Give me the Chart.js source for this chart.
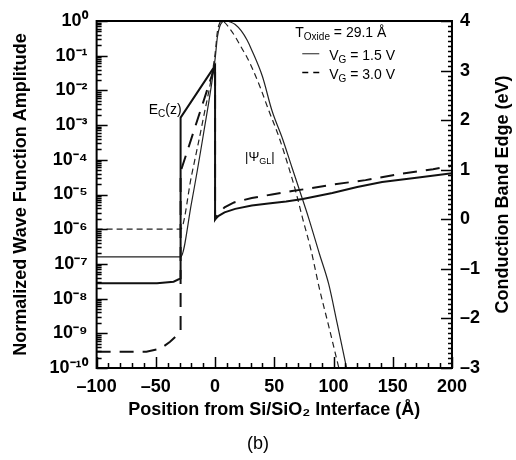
<!DOCTYPE html>
<html><head><meta charset="utf-8">
<script src="https://cdn.jsdelivr.net/npm/chart.js@4.4.1/dist/chart.umd.min.js"></script>
<style>html,body{margin:0;padding:0;background:#fff}canvas{display:block}</style>
</head><body>
<canvas id="c" width="516" height="460"></canvas>
<script>
// ---------- data ----------
const xTickValues = [-100, -50, 0, 50, 100, 150, 200];
const yDecadeExponents = [-10, -9, -8, -7, -6, -5, -4, -3, -2, -1, 0];
const y2TickValues = [-3, -2, -1, 0, 1, 2, 3, 4];

// Conduction band edge, V_G = 1.5 V (solid), eV, right axis
const ecSolidZ  = [-100, -49, -35, -29.1, -29.1, 0, 0, 3, 8, 17, 31, 45, 60, 74, 99, 120, 141, 170, 200];
const ecSolidEv = [-1.29, -1.29, -1.26, -1.19, 2.05, 3.1, 0.0, 0.07, 0.14, 0.21, 0.28, 0.32, 0.36, 0.41, 0.53, 0.65, 0.75, 0.84, 0.93];
// Conduction band edge, V_G = 3.0 V (dashed)
const ecDashZ  = [-100, -58, -46, -38, -33, -29.1, -29.1, 0, 0, 3, 8, 16, 31, 48, 65, 82, 99, 127, 155, 184, 200];
const ecDashEv = [-2.67, -2.67, -2.61, -2.47, -2.36, -2.24, 0.96, 3.1, 0.0, 0.12, 0.24, 0.34, 0.43, 0.5, 0.57, 0.63, 0.70, 0.79, 0.91, 1.01, 1.08];

// |Psi| (log10 of normalized amplitude), left axis
const psiSolidZ     = [-100, -29.1, -20, -10, 0, 2, 4, 6, 8, 10, 13, 17, 22, 27, 31, 40, 48, 57, 65, 72, 79, 88, 96, 103, 111];
const psiSolidLog10 = [-6.8, -6.8, -5.26, -3.3, -1.1, -0.45, -0.15, -0.03, 0, 0, -0.03, -0.1, -0.28, -0.55, -0.84, -1.6, -2.58, -3.4, -4.23, -4.95, -5.68, -6.7, -7.59, -8.7, -10];
const psiDashZ      = [-100, -29.1, -20, -10, 0, 2, 4, 6, 8, 12, 17, 22, 27, 31, 38, 45, 54, 62, 68, 74, 81, 88, 96, 104.5];
const psiDashLog10  = [-6.0, -6.0, -4.48, -2.82, -0.95, -0.3, -0.05, 0, -0.04, -0.2, -0.45, -0.75, -1.05, -1.33, -1.9, -2.55, -3.35, -4.2, -4.9, -5.7, -6.6, -7.7, -8.8, -10];

// ---------- helpers ----------
const FONT = "'Liberation Sans', Arial, Helvetica, sans-serif";
const SUP = {'-':'\u207B','0':'\u2070','1':'\u00B9','2':'\u00B2','3':'\u00B3','4':'\u2074','5':'\u2075','6':'\u2076','7':'\u2077','8':'\u2078','9':'\u2079'};
const toSup = n => String(n).split('').map(c => SUP[c]).join('');
const dashNum = v => v < 0 ? '\u2013' + Math.abs(v) : String(v);
const pts = (zs, vs) => zs.map((z, i) => ({x: z, y: vs[i]}));
const ptsLog = (zs, es) => zs.map((z, i) => ({x: z, y: Math.pow(10, es[i])}));

function richText(ctx, x, y, parts) {
  let cx = x;
  for (const p of parts) {
    ctx.font = (p.weight || 'normal') + ' ' + p.size + 'px ' + FONT;
    ctx.fillText(p.t, cx, y + (p.dy || 0));
    cx += ctx.measureText(p.t).width;
  }
}

const decor = {
  id: 'decor',
  afterDraw(chart) {
    const {ctx, chartArea: a, scales: {x, y, y2}} = chart;
    ctx.save();
    ctx.setLineDash([]);
    ctx.strokeStyle = '#000';
    ctx.fillStyle = '#000';
    // frame
    ctx.lineWidth = 2;
    ctx.strokeRect(a.left, a.top, a.right - a.left, a.bottom - a.top);
    // inward tick marks
    ctx.lineWidth = 1.5;
    ctx.beginPath();
    for (let v = xTickValues[0]; v <= xTickValues[xTickValues.length - 1]; v += 10) {
      const px = Math.round(x.getPixelForValue(v)) + 0.5;
      const len = xTickValues.includes(v) ? 11 : 5;
      ctx.moveTo(px, a.bottom); ctx.lineTo(px, a.bottom - len);
    }
    for (const e of yDecadeExponents) {
      for (let m = 1; m < 10; m++) {
        if (e === 0 && m > 1) break;
        const py = Math.round(y.getPixelForValue(m * Math.pow(10, e))) + 0.5;
        const len = m === 1 ? 11 : 5;
        ctx.moveTo(a.left, py); ctx.lineTo(a.left + len, py);
      }
    }
    for (let i = y2TickValues[0] * 10; i <= y2TickValues[y2TickValues.length - 1] * 10; i++) {
      const py = Math.round(y2.getPixelForValue(i / 10)) + 0.5;
      const len = i % 10 === 0 ? 11 : 4;
      ctx.moveTo(a.right, py); ctx.lineTo(a.right - len, py);
    }
    ctx.stroke();

    ctx.textAlign = 'left';
    ctx.textBaseline = 'alphabetic';
    // curve labels
    richText(ctx, x.getPixelForValue(-56), y2.getPixelForValue(2.13), [
      {t: 'E', size: 14}, {t: 'C', size: 10, dy: 3}, {t: '(z)', size: 14}]);
    richText(ctx, x.getPixelForValue(25.3), y.getPixelForValue(Math.pow(10, -4.03)), [
      {t: '|\u03A8', size: 13}, {t: 'GL', size: 9, dy: 3}, {t: '|', size: 13}]);

    // legend
    const lx = x.getPixelForValue(67.7);
    richText(ctx, lx, y2.getPixelForValue(3.67), [
      {t: 'T', size: 14}, {t: 'Oxide', size: 10, dy: 3}, {t: ' = 29.1 \u00C5', size: 14}]);
    const ly1 = y2.getPixelForValue(3.34), ly2 = y2.getPixelForValue(2.96);
    ctx.lineWidth = 1.2; ctx.strokeStyle = '#444';
    ctx.beginPath(); ctx.moveTo(lx + 7, ly1); ctx.lineTo(lx + 24, ly1); ctx.stroke();
    ctx.strokeStyle = '#000'; ctx.lineWidth = 1.5;
    ctx.setLineDash([6, 5]);
    ctx.beginPath(); ctx.moveTo(lx + 7, ly2); ctx.lineTo(lx + 24, ly2); ctx.stroke();
    ctx.setLineDash([]);
    richText(ctx, lx + 34, ly1 + 6, [{t: 'V', size: 14}, {t: 'G', size: 10, dy: 3}, {t: ' = 1.5 V', size: 14}]);
    richText(ctx, lx + 34, ly2 + 6, [{t: 'V', size: 14}, {t: 'G', size: 10, dy: 3}, {t: ' = 3.0 V', size: 14}]);

    // right axis title (reads bottom to top)
    ctx.save();
    ctx.translate(508, (a.top + a.bottom) / 2);
    ctx.rotate(-Math.PI / 2);
    ctx.textAlign = 'center';
    ctx.font = 'bold 18px ' + FONT;
    ctx.fillText('Conduction Band Edge (eV)', 0, 0);
    ctx.restore();

    // panel tag
    ctx.textAlign = 'center';
    ctx.font = 'normal 18px ' + FONT;
    ctx.fillText('(b)', 258, 449);
    ctx.restore();
  }
};

const tickFont = {family: FONT, size: 18, weight: 'bold', lineHeight: 1};

new Chart(document.getElementById('c'), {
  type: 'line',
  data: {
    datasets: [
      {label: 'Ec 1.5 V', yAxisID: 'y2', data: pts(ecSolidZ, ecSolidEv),
       borderColor: '#111', borderWidth: 2, pointRadius: 0, tension: 0, fill: false},
      {label: 'Ec 3.0 V', yAxisID: 'y2', data: pts(ecDashZ, ecDashEv),
       borderColor: '#111', borderWidth: 2, borderDash: [14, 9], pointRadius: 0, tension: 0, fill: false},
      {label: '|Psi| 1.5 V', yAxisID: 'y', data: ptsLog(psiSolidZ, psiSolidLog10),
       borderColor: '#222', borderWidth: 1.2, pointRadius: 0, cubicInterpolationMode: 'monotone', fill: false},
      {label: '|Psi| 3.0 V', yAxisID: 'y', data: ptsLog(psiDashZ, psiDashLog10),
       borderColor: '#222', borderWidth: 1.2, borderDash: [6, 4], pointRadius: 0, cubicInterpolationMode: 'monotone', fill: false}
    ]
  },
  options: {
    responsive: false,
    animation: false,
    devicePixelRatio: 1,
    layout: {padding: {left: 1, right: 28, top: 21, bottom: 37}},
    plugins: {legend: {display: false}, tooltip: {enabled: false}, title: {display: false}},
    scales: {
      x: {
        type: 'linear', min: -100, max: 200,
        afterBuildTicks: s => { s.ticks = xTickValues.map(v => ({value: v})); },
        ticks: {font: tickFont, color: '#000', padding: 10, maxRotation: 0, callback: v => dashNum(v)},
        grid: {display: false, drawTicks: false},
        border: {display: false},
        title: {display: true, text: 'Position from Si/SiO\u2082 Interface (\u00C5)', color: '#000',
                font: {family: FONT, size: 18, weight: 'bold', lineHeight: 1}, padding: {top: -5, bottom: 4}}
      },
      y: {
        type: 'logarithmic', position: 'left', min: 1e-10, max: 1,
        afterBuildTicks: s => { s.ticks = yDecadeExponents.map(e => ({value: Math.pow(10, e)})); },
        ticks: {font: tickFont, color: '#000', padding: 9,
                callback: v => '10' + toSup(Math.round(Math.log10(v)))},
        grid: {display: false, drawTicks: false},
        border: {display: false},
        title: {display: true, text: 'Normalized Wave Function Amplitude', color: '#000',
                font: {family: FONT, size: 18, weight: 'bold'}, padding: {top: 9, bottom: 9}}
      },
      y2: {
        type: 'linear', position: 'right', min: -3, max: 4,
        afterBuildTicks: s => { s.ticks = y2TickValues.map(v => ({value: v})); },
        ticks: {font: tickFont, color: '#000', padding: 8, callback: v => dashNum(v)},
        grid: {display: false, drawTicks: false},
        border: {display: false}
      }
    }
  },
  plugins: [decor]
});
</script>
</body></html>
